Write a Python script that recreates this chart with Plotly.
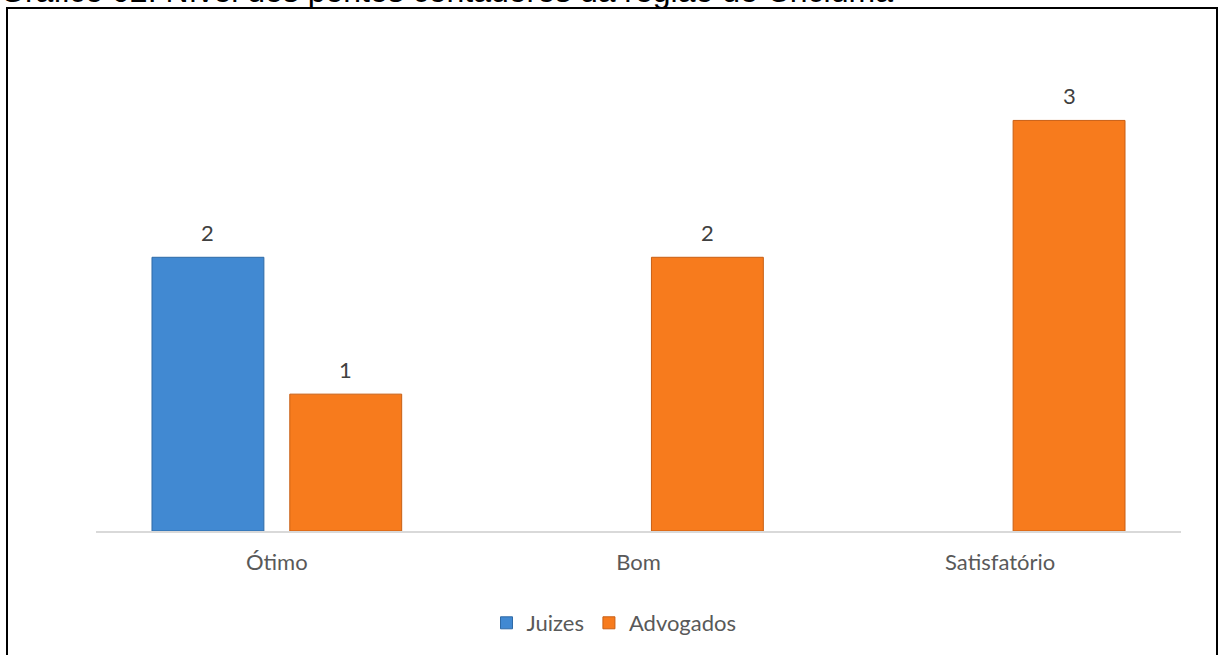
import plotly.graph_objects as go

categories = ["Ótimo", "Bom", "Satisfatório"]
juizes = [2, None, None]
advogados = [1, 2, 3]
series_names = ["Juizes", "Advogados"]
title_text = "Gráfico 02: Nível dos pontos contadores da região de Criciúma"

W, H = 1218, 655
ml, mr, mt, mb = 96, 37, 52, 123
pw, ph = W - ml - mr, H - mt - mb
bargap, bargroupgap = 0.238, 0.188

def px_x(p):
    return (p - ml) / pw

def px_y(p):
    return 1 - (p - mt) / ph

colors = ["#4189D2", "#F77B1D"]
edges = ["#2F6AA6", "#C85F14"]

fig = go.Figure()
for name, vals, c, e in zip(series_names, [juizes, advogados], colors, edges):
    fig.add_trace(go.Bar(
        x=categories, y=vals, name=name,
        marker=dict(color=c, line=dict(color=e, width=1)),
    ))

# data labels placed above each bar via the axis scales
slot = pw / len(categories) * (1 - bargap) / len(series_names)
offsets = [(i - (len(series_names) - 1) / 2) * slot for i in range(len(series_names))]
for vals, off in zip([juizes, advogados], offsets):
    for cat, v in zip(categories, vals):
        if v is None:
            continue
        fig.add_annotation(x=cat, y=v, xref="x", yref="y", text=str(v),
                           showarrow=False, xshift=off, yshift=25,
                           yanchor="middle", xanchor="center",
                           font=dict(family="Lato", size=22, color="#404040"))

fig.update_layout(
    width=W, height=H,
    margin=dict(l=ml, r=mr, t=mt, b=mb, pad=0),
    paper_bgcolor="white", plot_bgcolor="white",
    barmode="group", bargap=bargap, bargroupgap=bargroupgap,
    showlegend=True,
    legend=dict(orientation="h", x=px_x(614), xanchor="center",
                y=px_y(623), yanchor="middle",
                font=dict(family="Lato", size=22, color="#595959"),
                itemclick=False, traceorder="normal"),
    xaxis=dict(showline=True, linecolor="#D9D9D9", linewidth=2,
               ticks="", showgrid=False, zeroline=False,
               tickfont=dict(family="Lato", size=22, color="#595959"),
               ticklabelstandoff=11),
    yaxis=dict(range=[0, 3.5], visible=False, showgrid=False, zeroline=False),
    font=dict(family="Lato"),
)

fig.add_shape(type="rect", xref="paper", yref="paper",
              x0=px_x(7), x1=px_x(1217), y0=px_y(700), y1=px_y(8),
              line=dict(color="black", width=2), fillcolor="rgba(0,0,0,0)",
              layer="below")

fig.add_annotation(text=title_text, xref="paper", yref="paper",
                   x=px_x(-2), xanchor="left", y=px_y(11), yanchor="bottom",
                   showarrow=False,
                   font=dict(family="Liberation Sans", size=32, color="black"))

fig.write_html("out.html")
